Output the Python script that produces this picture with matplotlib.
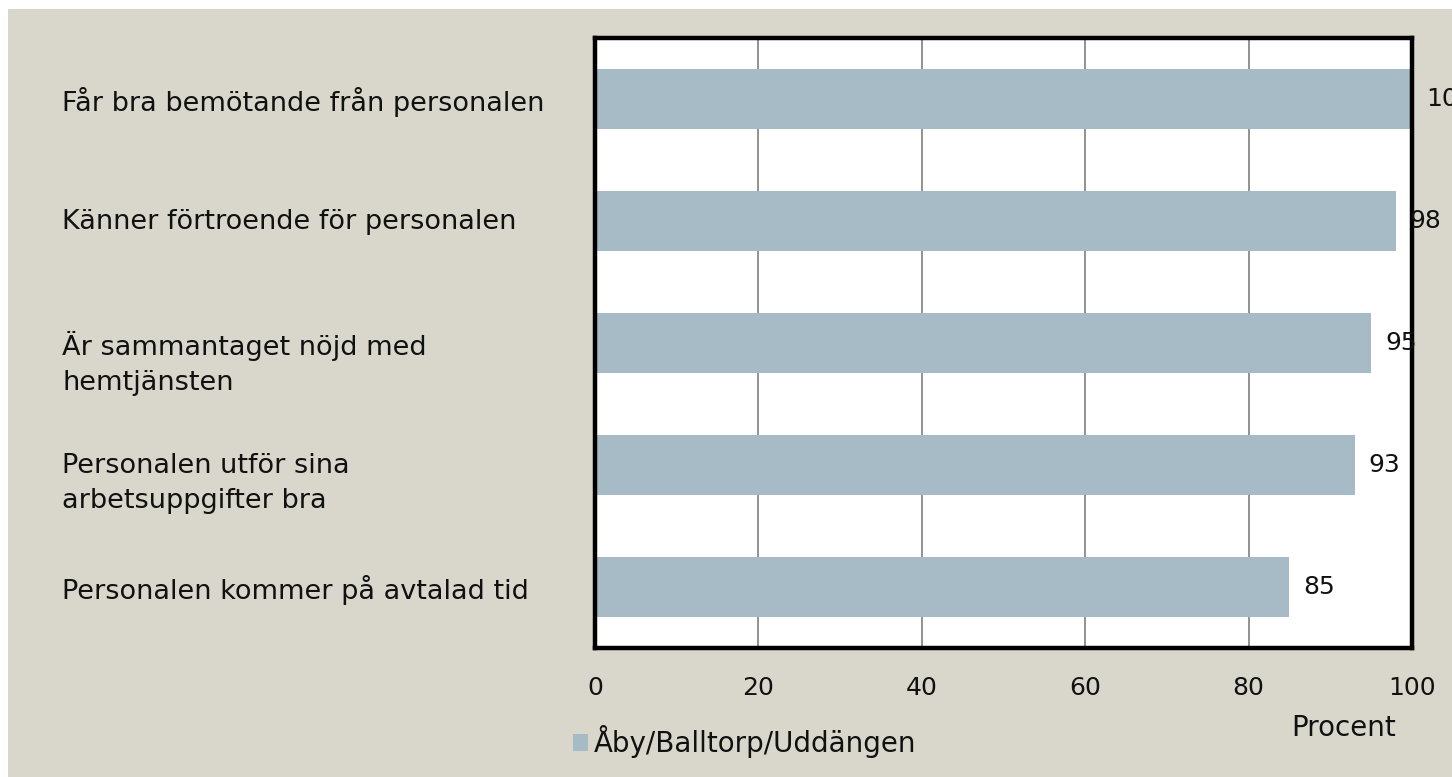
import matplotlib.pyplot as plt
from matplotlib.patches import Rectangle, Patch

categories = ["Får bra bemötande från personalen",
              "Känner förtroende för personalen",
              "Är sammantaget nöjd med\nhemtjänsten",
              "Personalen utför sina\narbetsuppgifter bra",
              "Personalen kommer på avtalad tid"]
values = [100, 98, 95, 93, 85]
series_name = "Åby/Balltorp/Uddängen"
xticks = [0, 20, 40, 60, 80, 100]

BG = "#D9D7CB"
BAR = "#A6BBC6"
W, H = 1452, 777

plt.rcParams['font.family'] = ['DejaVu Sans']
fig = plt.figure(figsize=(W / 100, H / 100), dpi=100, facecolor="white")
# beige panel with a thin white margin top/left
fig.patches.append(Rectangle((8 / W, 0), 1, 1 - 9 / H, transform=fig.transFigure,
                             facecolor=BG, edgecolor="none", zorder=-10))

ax = fig.add_axes([595 / W, 1 - 648 / H, 817 / W, 610 / H])
ax.set_facecolor("white")
y = list(range(len(categories)))
ax.barh(y, values, height=0.49, color=BAR, zorder=2)
ax.set_xlim(0, 100)
ax.set_ylim(len(categories) - 0.5, -0.5)

ax.set_xticks(xticks)
ax.set_xticklabels([str(t) for t in xticks], fontsize=18, color="#111111")
ax.tick_params(axis="x", length=0, pad=20)
ax.set_yticks([])
ax.grid(axis="x", color="#7f7f7f", linewidth=1.2, zorder=1)
for s in ax.spines.values():
    s.set_linewidth(3.2)
    s.set_color("black")
    s.set_zorder(3)

# category labels: first line sits at the bar centre, extra lines hang below
for i, lab in enumerate(categories):
    ax.annotate(lab, (-0.652, i), xycoords=ax.get_yaxis_transform(),
                xytext=(0, 8.5), textcoords="offset points",
                ha="left", va="top", fontsize=19.5, color="#111111",
                linespacing=1.45, annotation_clip=False)

for i, v in enumerate(values):
    ax.annotate(str(v), (v, i), xytext=(10, 0), textcoords="offset points",
                ha="left", va="center", fontsize=18, color="#111111",
                annotation_clip=False, zorder=5)

fig.text(1344 / W, 1 - 728 / H, "Procent", ha="center", va="center", fontsize=20, color="#111111")

leg = fig.legend(handles=[Patch(facecolor=BAR, label=series_name)],
                 loc="center left", bbox_to_anchor=(562 / W, 1 - 742 / H),
                 frameon=False, fontsize=20, handlelength=0.55, handleheight=0.55,
                 handletextpad=0.2, borderaxespad=0)
for t in leg.get_texts():
    t.set_color("#111111")

fig.savefig("out.png", dpi=100, facecolor="white")
